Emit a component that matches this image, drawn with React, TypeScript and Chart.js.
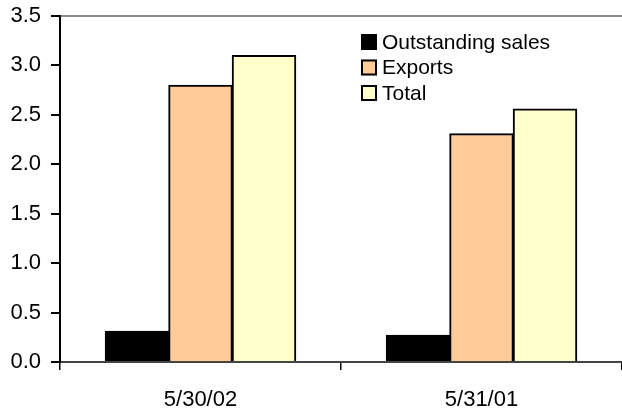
import React, { useEffect, useRef } from "react";
import { Chart, registerables } from "chart.js";

Chart.register(...registerables);

const categories = ["5/30/02", "5/31/01"];
const seriesNames = ["Outstanding sales", "Exports", "Total"];
const outstandingSales = [0.31, 0.27];
const exportsValues = [2.8, 2.31];
const totalValues = [3.1, 2.56];
const yTicks = [0, 0.5, 1.0, 1.5, 2.0, 2.5, 3.0, 3.5];

const FONT = "'Liberation Sans', Arial, sans-serif";
const fills = ["#000000", "#FFCC99", "#FFFFCC"];

// Legend drawn inside the plot area, top right
const insideLegend = {
  id: "insideLegend",
  afterDraw(chart: any) {
    const ctx = chart.ctx;
    const x0 = 361;
    const y0 = 42;
    const rowGap = 25.5;
    const box = 16;
    ctx.save();
    ctx.font = `21px ${FONT}`;
    ctx.textBaseline = "middle";
    ctx.textAlign = "left";
    chart.data.datasets.forEach((ds: any, i: number) => {
      const cy = y0 + i * rowGap;
      ctx.fillStyle = ds.backgroundColor;
      ctx.fillRect(x0, cy - box / 2, box, box);
      ctx.lineWidth = 2;
      ctx.strokeStyle = "#000";
      ctx.strokeRect(x0 + 1, cy - box / 2 + 1, box - 2, box - 2);
      ctx.fillStyle = "#000";
      ctx.fillText(ds.label, x0 + 21, cy + 1);
    });
    ctx.restore();
  },
};

export default function App() {
  const ref = useRef<HTMLCanvasElement>(null);

  useEffect(() => {
    document.body.style.margin = "0";
    const values = [outstandingSales, exportsValues, totalValues];
    const chart = new Chart(ref.current!, {
      type: "bar",
      data: {
        labels: categories,
        datasets: seriesNames.map((name, i) => ({
          label: name,
          data: values[i],
          backgroundColor: fills[i],
          borderColor: "#000",
          borderWidth: 2,
          inflateAmount: 0.5,
          barPercentage: 1,
          categoryPercentage: 0.678,
        })),
      },
      options: {
        animation: false,
        responsive: false,
        devicePixelRatio: 1,
        layout: { padding: { top: 16, right: 0, left: 0, bottom: 0 } },
        plugins: { legend: { display: false }, tooltip: { enabled: false } },
        scales: {
          x: {
            grid: {
              offset: true,
              drawOnChartArea: false,
              tickLength: 8,
              tickColor: "#000",
              lineWidth: 1.5,
            },
            border: { color: "#444", width: 2 },
            ticks: { color: "#000", font: { family: FONT, size: 22 }, padding: 17 },
            afterFit(scale: any) {
              scale.height = 48;
              scale.paddingLeft = 0;
              scale.paddingRight = 0;
            },
          },
          y: {
            min: 0,
            max: 3.5,
            afterBuildTicks(scale: any) {
              scale.ticks = yTicks.map((v) => ({ value: v }));
            },
            grid: {
              color: (c: any) => (c.tick && c.tick.value === 3.5 ? "#8c8c8c" : "rgba(0,0,0,0)"),
              lineWidth: 2,
              tickLength: 9,
              tickColor: "#000",
            },
            border: { color: "#000", width: 2 },
            ticks: {
              color: "#000",
              font: { family: FONT, size: 22 },
              padding: 10,
              callback: (v: any) => Number(v).toFixed(1),
            },
            afterFit(scale: any) {
              scale.width = 60;
              scale.paddingTop = 0;
              scale.paddingBottom = 0;
            },
          },
        },
      },
      plugins: [insideLegend],
    });
    return () => chart.destroy();
  }, []);

  return (
    <div style={{ width: 622, height: 410, background: "#fff" }}>
      <canvas ref={ref} width={622} height={410} />
    </div>
  );
}
